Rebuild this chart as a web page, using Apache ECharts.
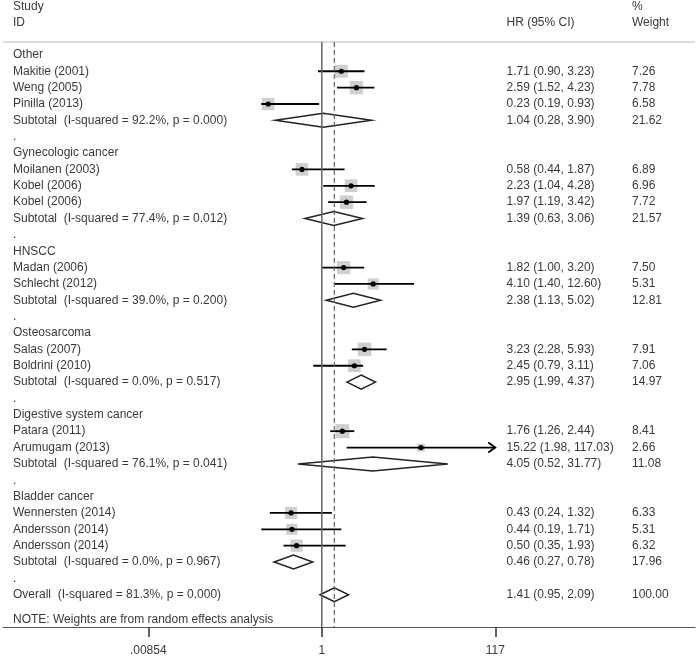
<!DOCTYPE html>
<html>
<head>
<meta charset="utf-8">
<script src="https://cdn.jsdelivr.net/npm/echarts@6/dist/echarts.min.js"></script>
<style>html,body{margin:0;padding:0;background:#fff}#c{width:697px;height:657px}</style>
</head>
<body>
<div id="c"></div>
<script>
// ---------------- data ----------------
const groupNames = ['Other', 'Gynecologic cancer', 'HNSCC', 'Osteosarcoma', 'Digestive system cancer', 'Bladder cancer'];
const studyNames = [
  ['Makitie (2001)', 'Weng (2005)', 'Pinilla (2013)'],
  ['Moilanen (2003)', 'Kobel (2006)', 'Kobel (2006)'],
  ['Madan (2006)', 'Schlecht (2012)'],
  ['Salas (2007)', 'Boldrini (2010)'],
  ['Patara (2011)', 'Arumugam (2013)'],
  ['Wennersten (2014)', 'Andersson (2014)', 'Andersson (2014)']
];
const studyHR = [[1.71, 2.59, 0.23], [0.58, 2.23, 1.97], [1.82, 4.10], [3.23, 2.45], [1.76, 15.22], [0.43, 0.44, 0.50]];
const studyLo = [[0.90, 1.52, 0.19], [0.44, 1.04, 1.19], [1.00, 1.40], [2.28, 0.79], [1.26, 1.98], [0.24, 0.19, 0.35]];
const studyHi = [[3.23, 4.23, 0.93], [1.87, 4.28, 3.42], [3.20, 12.60], [5.93, 3.11], [2.44, 117.03], [1.32, 1.71, 1.93]];
const studyWeight = [[7.26, 7.78, 6.58], [6.89, 6.96, 7.72], [7.50, 5.31], [7.91, 7.06], [8.41, 2.66], [6.33, 5.31, 6.32]];
const subHR = [1.04, 1.39, 2.38, 2.95, 4.05, 0.46];
const subLo = [0.28, 0.63, 1.13, 1.99, 0.52, 0.27];
const subHi = [3.90, 3.06, 5.02, 4.37, 31.77, 0.78];
const subWeight = [21.62, 21.57, 12.81, 14.97, 11.08, 17.96];
const subI2 = ['92.2', '77.4', '39.0', '0.0', '76.1', '0.0'];
const subP = ['0.000', '0.012', '0.200', '0.517', '0.041', '0.967'];
const overall = {hr: 1.41, lo: 0.95, hi: 2.09, weight: 100.00, i2: '81.3', p: '0.000'};
const tickValues = [0.00854, 1, 117];
const tickLabels = ['.00854', '1', '117'];
const noteText = 'NOTE: Weights are from random effects analysis';

// ---------------- layout constants ----------------
const ROW = 16.385;           // px per row
const FIRST_ROW_Y = 55;       // px of row 0
const AXIS_Y = 628;           // px of x axis line
const GRID_L = 3, GRID_R = 695, W = 697;
const ONE_X = 321.8, PX_PER_LN = 36.43;
const COL_NAME = 13, COL_HR = 506.5, COL_W = 632;
const TEXT_COLOR = '#3a3a3a';
const FONT = '12px "Liberation Sans", Arial, sans-serif';
const rowOfPx = px => (px - FIRST_ROW_Y) / ROW;
const maxPlotHR = tickValues[tickValues.length - 1];

// ---------------- build rows ----------------
const f2 = v => v.toFixed(2);
const texts = [];   // [px, row, text]
const studies = []; // [lnHR, lnLo, lnHi, row, weight]
const diamonds = []; // [lnHR, lnLo, lnHi, row]
let r = 0;
groupNames.forEach((g, gi) => {
  texts.push([COL_NAME, r, g]); r++;
  studyNames[gi].forEach((n, si) => {
    const hr = studyHR[gi][si], lo = studyLo[gi][si], hi = studyHi[gi][si], w = studyWeight[gi][si];
    texts.push([COL_NAME, r, n]);
    texts.push([COL_HR, r, `${f2(hr)} (${f2(lo)}, ${f2(hi)})`]);
    texts.push([COL_W, r, f2(w)]);
    studies.push([Math.log(hr), Math.log(lo), Math.log(hi), r, w]);
    r++;
  });
  texts.push([COL_NAME, r, `Subtotal  (I-squared = ${subI2[gi]}%, p = ${subP[gi]})`]);
  texts.push([COL_HR, r, `${f2(subHR[gi])} (${f2(subLo[gi])}, ${f2(subHi[gi])})`]);
  texts.push([COL_W, r, f2(subWeight[gi])]);
  diamonds.push([Math.log(subHR[gi]), Math.log(subLo[gi]), Math.log(subHi[gi]), r]);
  r++;
  texts.push([COL_NAME, r, '.']); r++;
});
texts.push([COL_NAME, r, `Overall  (I-squared = ${overall.i2}%, p = ${overall.p})`]);
texts.push([COL_HR, r, `${f2(overall.hr)} (${f2(overall.lo)}, ${f2(overall.hi)})`]);
texts.push([COL_W, r, f2(overall.weight)]);
diamonds.push([Math.log(overall.hr), Math.log(overall.lo), Math.log(overall.hi), r]);
texts.push([COL_NAME, rowOfPx(621), noteText]);
// headers
texts.push([COL_NAME, rowOfPx(7), 'Study']);
texts.push([COL_NAME, rowOfPx(22.5), 'ID']);
texts.push([COL_HR, rowOfPx(22.5), 'HR (95% CI)']);
texts.push([COL_W, rowOfPx(7), '%']);
texts.push([COL_W, rowOfPx(22.5), 'Weight']);

const yMin = rowOfPx(0), yMax = rowOfPx(AXIS_Y), yHeaderLine = rowOfPx(42);
const xMin = (GRID_L - ONE_X) / PX_PER_LN, xMax = (GRID_R - ONE_X) / PX_PER_LN;
const lnTicks = tickValues.map(Math.log);

const chart = echarts.init(document.getElementById('c'), null, {renderer: 'canvas'});
chart.setOption({
  animation: false,
  backgroundColor: '#fff',
  grid: {left: GRID_L, right: W - GRID_R, top: 0, bottom: 657 - AXIS_Y},
  xAxis: [{
    type: 'value', min: xMin, max: xMax, position: 'bottom',
    axisLine: {show: true, onZero: false, lineStyle: {color: '#555', width: 1}},
    axisTick: {show: true, customValues: lnTicks, length: 10, lineStyle: {color: '#333', width: 1.5}},
    axisLabel: {show: true, customValues: lnTicks, margin: 18, color: TEXT_COLOR, fontSize: 12,
      fontFamily: '"Liberation Sans", Arial, sans-serif',
      formatter: v => { const i = lnTicks.findIndex(t => Math.abs(t - v) < 1e-6); return i >= 0 ? tickLabels[i] : ''; }},
    splitLine: {show: false}
  }, {
    type: 'value', min: GRID_L, max: GRID_R, show: false
  }],
  yAxis: {type: 'value', inverse: true, min: yMin, max: yMax, show: false},
  series: [
    { // header separator
      type: 'line', xAxisIndex: 1, symbol: 'none', silent: true,
      data: [[GRID_L, yHeaderLine], [GRID_R, yHeaderLine]],
      lineStyle: {color: '#dcdcdc', width: 2}
    },
    { // no-effect line
      type: 'line', xAxisIndex: 0, symbol: 'none', silent: true,
      data: [[0, yHeaderLine], [0, yMax]],
      lineStyle: {color: '#666', width: 1.5}
    },
    { // overall effect dashed line
      type: 'line', xAxisIndex: 0, symbol: 'none', silent: true,
      data: [[Math.log(overall.hr), yHeaderLine], [Math.log(overall.hr), yMax]],
      lineStyle: {color: '#666', width: 1.2, type: [5, 3]}
    },
    { // study squares, CIs, points
      type: 'custom', xAxisIndex: 0, clip: false,
      data: studies,
      encode: {x: [0, 1, 2], y: 3},
      renderItem: (params, api) => {
        const row = api.value(3);
        const c = api.coord([api.value(0), row]);
        const lo = api.coord([api.value(1), row]);
        const hiV = api.value(2);
        const capped = hiV > Math.log(maxPlotHR);
        const hi = api.coord([capped ? Math.log(maxPlotHR) : hiV, row]);
        const side = 4.82 * Math.sqrt(api.value(4));
        const children = [
          {type: 'rect', shape: {x: c[0] - side / 2, y: c[1] - side / 2, width: side, height: side}, style: {fill: '#cfcfcf'}},
          {type: 'line', shape: {x1: lo[0], y1: lo[1], x2: hi[0], y2: hi[1]}, style: {stroke: '#000', lineWidth: 1.8}},
          {type: 'circle', shape: {cx: c[0], cy: c[1], r: 2.6}, style: {fill: '#000'}}
        ];
        if (capped) {
          children.push({type: 'polyline', shape: {points: [[hi[0] - 7, hi[1] - 5], [hi[0], hi[1]], [hi[0] - 7, hi[1] + 5]]},
            style: {stroke: '#000', lineWidth: 1.8, fill: null}});
        }
        return {type: 'group', children};
      }
    },
    { // diamonds
      type: 'custom', xAxisIndex: 0, clip: false,
      data: diamonds,
      encode: {x: [0, 1, 2], y: 3},
      renderItem: (params, api) => {
        const row = api.value(3);
        const c = api.coord([api.value(0), row]);
        const lo = api.coord([api.value(1), row]);
        const hi = api.coord([api.value(2), row]);
        const h = 7;
        return {type: 'polygon', shape: {points: [[lo[0], c[1]], [c[0], c[1] - h], [hi[0], c[1]], [c[0], c[1] + h]]},
          style: {fill: null, stroke: '#222', lineWidth: 1.5}};
      }
    },
    { // text table
      type: 'custom', xAxisIndex: 1, clip: false,
      data: texts.map(t => [t[0], t[1]]),
      encode: {x: 0, y: 1},
      renderItem: (params, api) => {
        const p = api.coord([api.value(0), api.value(1)]);
        return {type: 'text', x: p[0], y: p[1],
          style: {text: texts[params.dataIndex][2], fill: TEXT_COLOR, font: FONT, textAlign: 'left', textVerticalAlign: 'middle'}};
      }
    }
  ]
});
</script>
</body>
</html>
